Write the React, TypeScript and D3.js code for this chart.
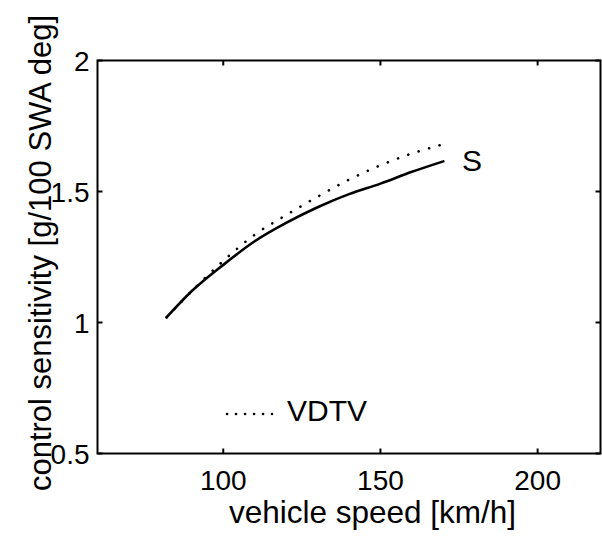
import React, { useEffect, useRef } from 'react';
import * as d3 from 'd3';

// vehicle speed [km/h]
const speeds = [82, 90, 100, 110, 120, 130, 140, 150, 160, 170];
// control sensitivity [g/100 SWA deg]
const solidS = [1.02, 1.12, 1.22, 1.31, 1.38, 1.44, 1.49, 1.53, 1.575, 1.615];
const dottedVDTV = [1.02, 1.12, 1.235, 1.335, 1.41, 1.48, 1.545, 1.6, 1.645, 1.68];

const xTicks = [100, 150, 200];
const yTicks = [0.5, 1, 1.5, 2];

const W = 602;
const H = 536;
const FONT = 'Liberation Sans, Arial, Helvetica, sans-serif';

const App = () => {
  const svgRef = useRef<SVGSVGElement>(null);

  useEffect(() => {
    const svg = d3.select(svgRef.current);
    svg.selectAll('*').remove();

    const left = 97.5, right = 600.5, top = 60.5, bottom = 453.5;

    const x = d3.scaleLinear().domain([60, 220]).range([left, right]);
    const y = d3.scaleLinear().domain([0.5, 2]).range([bottom, top]);

    const tick = 5;

    // frame
    svg.append('rect')
      .attr('x', left).attr('y', top)
      .attr('width', right - left).attr('height', bottom - top)
      .attr('fill', 'none').attr('stroke', '#000').attr('stroke-width', 2);

    // inward ticks on all four sides
    const tg = svg.append('g').attr('stroke', '#000').attr('stroke-width', 2);
    xTicks.forEach(t => {
      tg.append('line').attr('x1', x(t)).attr('x2', x(t)).attr('y1', bottom).attr('y2', bottom - tick);
      tg.append('line').attr('x1', x(t)).attr('x2', x(t)).attr('y1', top).attr('y2', top + tick);
    });
    yTicks.forEach(t => {
      tg.append('line').attr('x1', left).attr('x2', left + tick).attr('y1', y(t)).attr('y2', y(t));
      tg.append('line').attr('x1', right).attr('x2', right - tick).attr('y1', y(t)).attr('y2', y(t));
    });

    // tick labels
    svg.append('g').selectAll('text')
      .data(xTicks)
      .enter()
      .append('text')
      .attr('x', d => x(d))
      .attr('y', 490)
      .attr('text-anchor', 'middle')
      .style('font-family', FONT)
      .style('font-size', '28px')
      .text(d => d);

    svg.append('g').selectAll('text')
      .data(yTicks)
      .enter()
      .append('text')
      .attr('x', left - 8)
      .attr('y', d => y(d))
      .attr('dy', '0.36em')
      .attr('text-anchor', 'end')
      .style('font-family', FONT)
      .style('font-size', '28px')
      .text(d => d);

    // axis titles
    svg.append('text')
      .attr('x', 372.5)
      .attr('y', 523)
      .attr('text-anchor', 'middle')
      .style('font-family', FONT)
      .style('font-size', '31.5px')
      .text('vehicle speed [km/h]');

    svg.append('text')
      .attr('transform', `translate(51, 253) rotate(-90)`)
      .attr('text-anchor', 'middle')
      .style('font-family', FONT)
      .style('font-size', '31px')
      .text('control sensitivity [g/100 SWA deg]');

    const line = (vals: number[]) => d3.line<number>()
      .x((_, i) => x(speeds[i]))
      .y(d => y(d))
      .curve(d3.curveMonotoneX)(vals);

    svg.append('path')
      .attr('d', line(dottedVDTV))
      .attr('fill', 'none')
      .attr('stroke', '#000')
      .attr('stroke-width', 2.6)
      .attr('stroke-linecap', 'round')
      .attr('stroke-dasharray', '0.1 10.8');

    svg.append('path')
      .attr('d', line(solidS))
      .attr('fill', 'none')
      .attr('stroke', '#000')
      .attr('stroke-width', 2.6)
      .attr('stroke-linecap', 'round');

    // labels
    svg.append('text')
      .attr('x', 462)
      .attr('y', 170.7)
      .style('font-family', FONT)
      .style('font-size', '30px')
      .text('S');

    svg.append('line')
      .attr('x1', 227).attr('x2', 272)
      .attr('y1', 414).attr('y2', 414)
      .attr('stroke', '#000')
      .attr('stroke-width', 2.6)
      .attr('stroke-linecap', 'round')
      .attr('stroke-dasharray', '0.1 8.9');

    svg.append('text')
      .attr('x', 287)
      .attr('y', 421)
      .style('font-family', FONT)
      .style('font-size', '30px')
      .text('VDTV');
  }, []);

  return (
    <svg
      ref={svgRef}
      width={W}
      height={H}
      style={{ position: 'absolute', left: 0, top: 0, background: '#fff' }}
    />
  );
};

export default App;
